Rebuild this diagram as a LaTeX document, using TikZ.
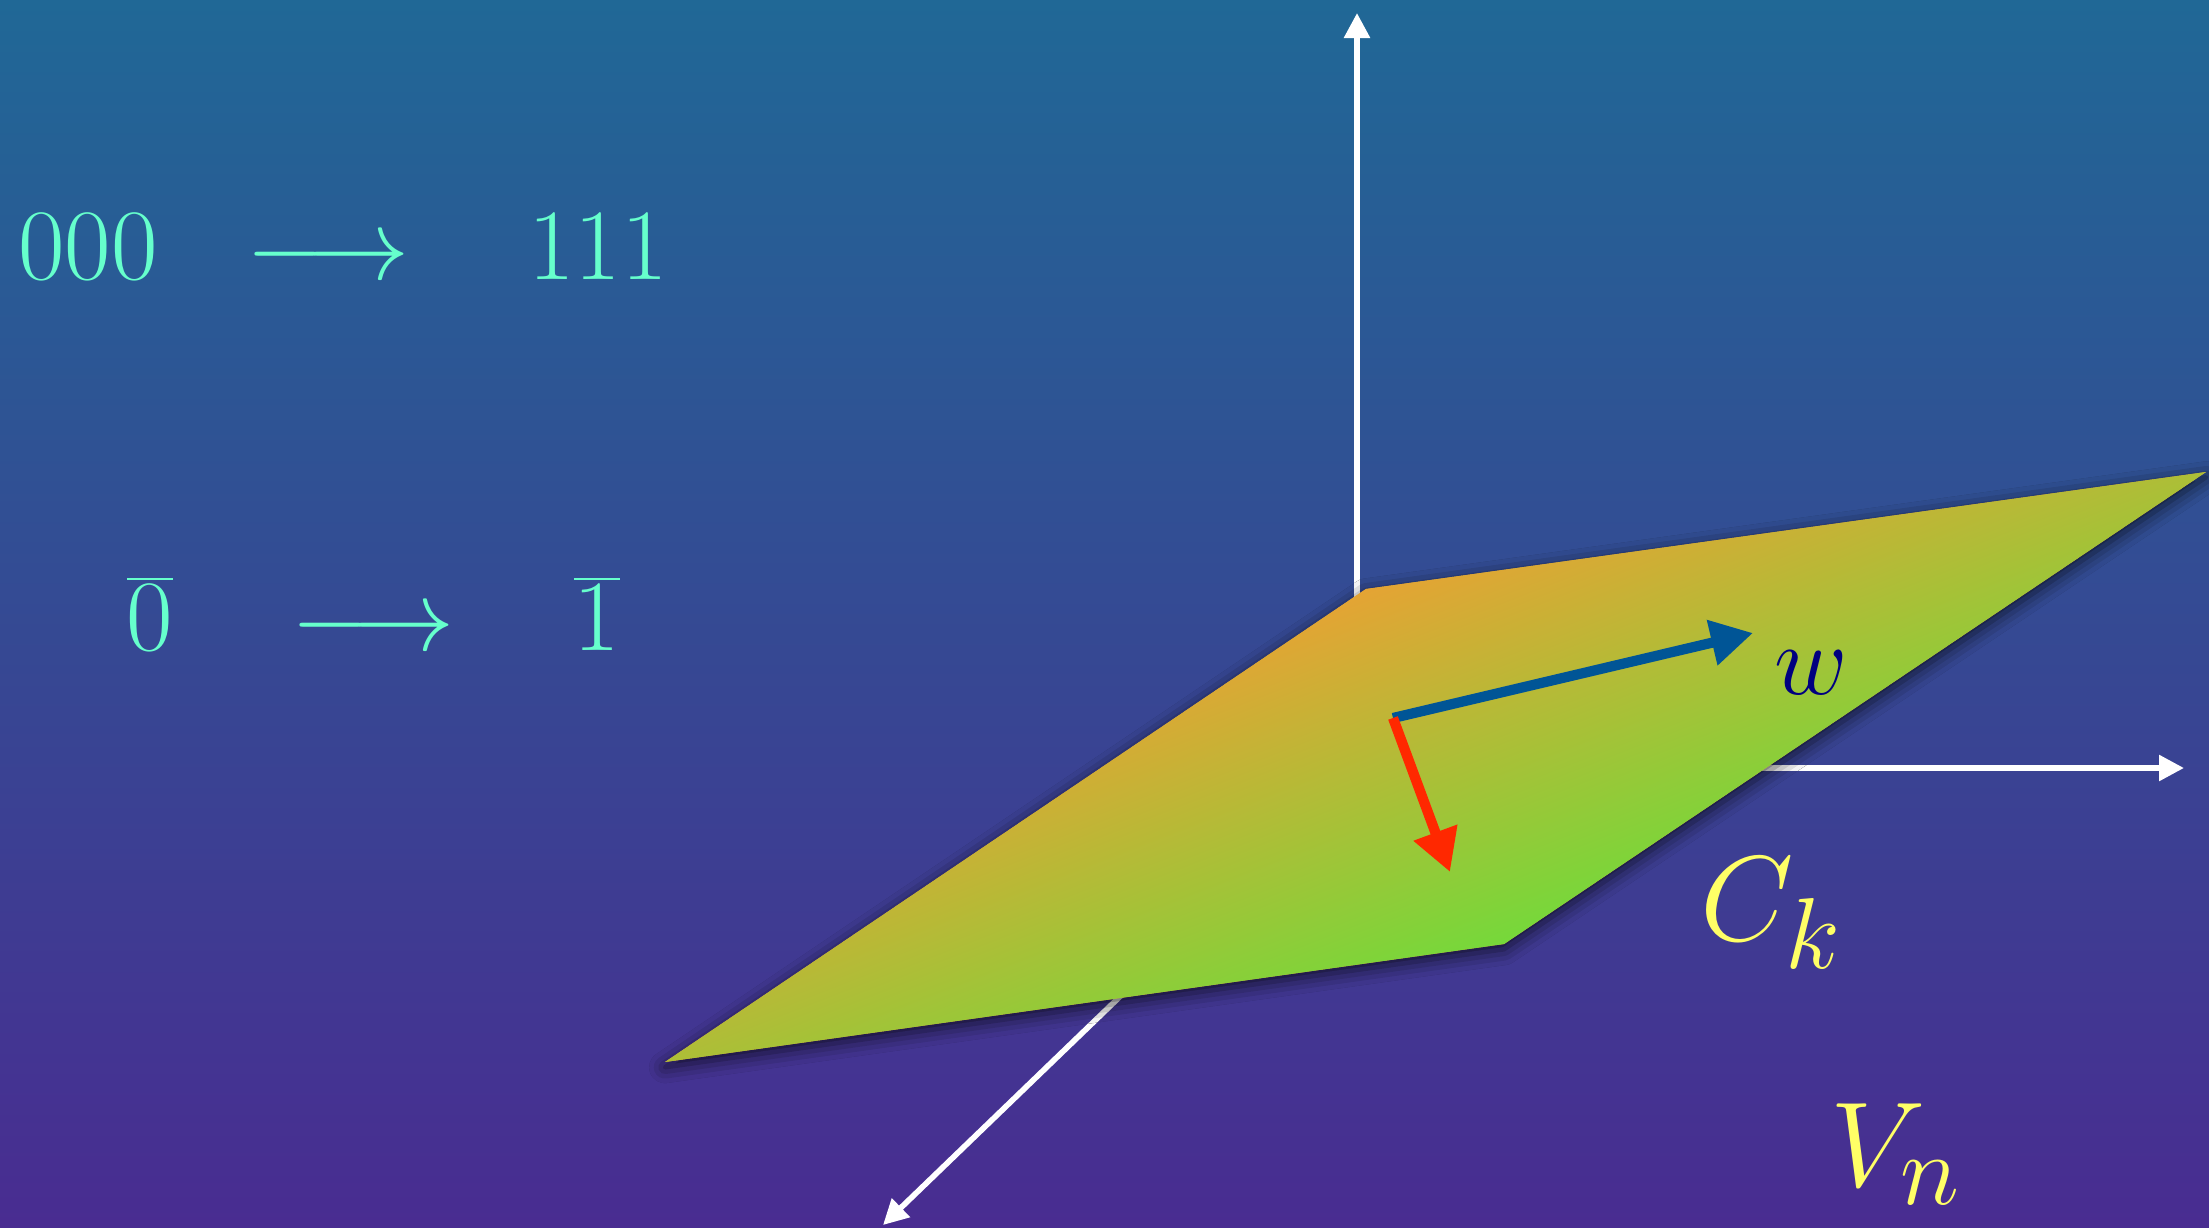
\documentclass[tikz,border=0pt]{standalone}
\usetikzlibrary{arrows.meta,shadows.blur}
\definecolor{bgtop}{RGB}{32,104,150}
\definecolor{bgbot}{RGB}{73,44,145}
\definecolor{txtc}{RGB}{102,255,204}
\definecolor{ylw}{RGB}{255,255,102}
\definecolor{wblue}{RGB}{0,85,150}
\definecolor{vred}{RGB}{255,40,0}
\definecolor{wnavy}{RGB}{0,0,128}
\definecolor{porange}{RGB}{228,164,52}
\definecolor{pgreen}{RGB}{118,216,58}
\pgfdeclareverticalshading{planeshade}{100bp}{color(0bp)=(pgreen); color(45.24bp)=(pgreen); color(54.76bp)=(porange); color(100bp)=(porange)}
\begin{document}
\begin{tikzpicture}[x=0.01cm,y=-0.01cm,
  axisline/.style={white, line width=1.6pt, -{Triangle[length=0.25cm,width=0.25cm]}},
  vecline/.style={line width=2.9pt, -{Triangle[length=0.42cm,width=0.44cm]}},
  lbl/.style={text=txtc, font=\Huge, scale=1.156, inner sep=0pt, anchor=base},
  big/.style={text=ylw, font=\Huge, scale=1.383, inner sep=0pt, anchor=base west}]
\shade[top color=bgtop, bottom color=bgbot] (0,0) rectangle (2209,1227);
\useasboundingbox (0,0) rectangle (2209,1227);

% axes
\coordinate (O) at (1357,768);
\coordinate (Z) at (1357,13);
\coordinate (X) at (2184,768);
\coordinate (Y) at (883,1225);
\draw[axisline] (O) -- (Z);
\draw[axisline] (O) -- (X);
\draw[axisline] (O) -- (Y);

% plane
\coordinate (P1) at (1366,589);
\coordinate (P2) at (2206,472);
\coordinate (P3) at (1504,944);
\coordinate (P4) at (665,1062);
\path[fill=porange, blur shadow={shadow xshift=0pt, shadow yshift=-1.5pt, shadow blur radius=4.5pt, shadow opacity=70}]
  (P1) -- (P2) -- (P3) -- (P4) -- cycle;
\begin{scope}
\clip (P1) -- (P2) -- (P3) -- (P4) -- cycle;
\shade[shading=planeshade, shading angle=21.2] (435,-234) rectangle (2435,1766);
\end{scope}

% vectors on plane
\coordinate (S) at (1393,718);
\coordinate (W) at (1753,633);
\coordinate (R) at (1450,872);
\draw[vecline, wblue] (S) -- (W);
\draw[vecline, vred] (S) -- (R);

% labels
\node[lbl] (n000) at (88,279) {$000$};
\node[lbl] (a1) at (328,279) {$\longrightarrow$};
\node[lbl] (n111) at (598,279) {$111$};
\node[lbl] (n0) at (150,650) {$\overline{0}$};
\node[lbl] (a2) at (373,650) {$\longrightarrow$};
\node[lbl] (n1) at (597,650) {$\overline{1}$};

\node[text=wnavy, font=\Huge, scale=1.156, inner sep=0pt, anchor=base west] (w) at (1774,694) {$w$};
\node[big] (Ck) at (1700,940) {$C_k$};
\node[big] (Vn) at (1830,1186) {$V_n$};
\end{tikzpicture}
\end{document}
